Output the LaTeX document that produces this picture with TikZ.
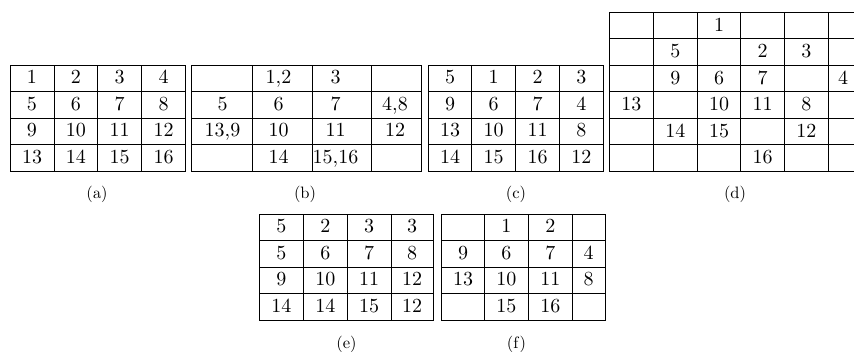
\documentclass[tikz,border=0pt]{standalone}
\usepackage{tikz}
\font\zellenfont=cmr10 at 20pt
\font\titelfont=cmr10 at 16.5pt

% Tabelle: Name, obere Kante, Spaltenlinien, Textmitten, Zeilen
\newcommand{\tabelle}[5]{%
	\foreach \zeile [count=\r from 0] in {#5} {
		\foreach \t [count=\c from 0] in \zeile {
			\pgfmathsetmacro\xa{{#3}[\c]}
			\pgfmathsetmacro\xb{{#3}[\c+1]}
			\pgfmathsetmacro\xm{{#4}[\c]}
			\pgfmathsetmacro\ya{#2+26.5*\r}
			\draw[gitter] (\xa,\ya) rectangle (\xb,\ya+26.5);
			\if\relax\detokenize\expandafter{\t}\relax\else
				\node[zelle] (#1\r\c) at (\xm,\ya+19) {\t};
			\fi
		}
	}
}

\begin{document}
\begin{tikzpicture}[x=1pt, y=-1pt,
		gitter/.style={line width=0.9pt},
		zelle/.style={anchor=base, inner sep=0pt, font=\zellenfont},
		titel/.style={anchor=base, inner sep=0pt, font=\titelfont}]
		\useasboundingbox (0,0) rectangle (854,352);
		\clip (0,0) rectangle (854,352); %Bildbereich
		% (a) Ausgangsbild
		\tabelle{a}{65}{10,54,97.7,141.7,185.5}{32,75.85,119.7,163.6}
			{{1,2,3,4},{5,6,7,8},{9,10,11,12},{13,14,15,16}}
		% (b)
		\tabelle{b}{65}{191.5,252.7,312.7,371.7,421.5}{222.5,278.5,335.5,395}
			{{{},{1,2},3,{}},{5,6,7,{4,8}},{{13,9},10,11,12},{{},14,{15,16},{}}}
		% (c)
		\tabelle{c}{65}{428.3,471.7,515.7,559.3,603.3}{450,493.7,537.5,581.3}
			{{5,1,2,3},{9,6,7,4},{13,10,11,8},{14,15,16,12}}
		% (d) rechts abgeschnitten
		\tabelle{d}{12.3}{609.3,653.3,697.3,740.7,784.3,828.3,861}{631.3,675.3,719,762.5,806.3,843}
			{{{},{},1,{},{},{}},{{},5,{},2,3,{}},{{},9,6,7,{},4},{13,{},10,11,8,{}},{{},14,15,{},12,{}},{{},{},{},16,{},{}}}
		% (e)
		\tabelle{e}{214}{259.3,303.3,347.3,391,433.3}{281.3,325.3,369.2,412.2}
			{{5,2,3,3},{5,6,7,8},{9,10,11,12},{14,14,15,12}}
		% (f)
		\tabelle{f}{214}{441.7,484.3,528.3,572.3,605.7}{463,506.3,550.3,588.7}
			{{{},1,2,{}},{9,6,7,4},{13,10,11,8},{{},15,16,{}}}
		%Beschriftung
		\node[titel] (ta) at (97,198.5) {(a)};
		\node[titel] (tb) at (305,198.5) {(b)};
		\node[titel] (tc) at (516,198.5) {(c)};
		\node[titel] (td) at (735,198.5) {(d)};
		\node[titel] (te) at (346.5,349) {(e)};
		\node[titel] (tf) at (516.5,349) {(f)};
	\end{tikzpicture}
\end{document}
